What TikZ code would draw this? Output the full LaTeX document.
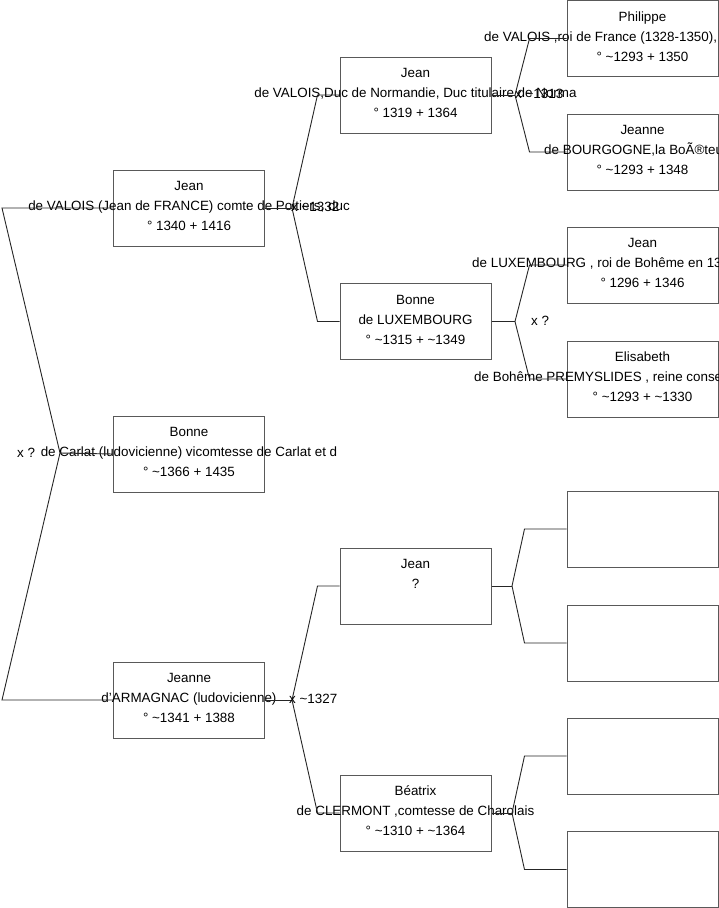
\documentclass[tikz,border=0pt]{standalone}
\usepackage{fontspec}
\setmainfont{Liberation Sans}
\newcommand\tld{\textasciitilde}
\newcommand\pfont{\fontsize{13.4}{15}\selectfont}
\tikzset{
  pbox/.style={draw=black!65, line width=1pt, minimum width=151pt, minimum height=76pt, inner sep=0pt},
  ptext/.style={font=\pfont, inner sep=0pt, anchor=base},
  ptextw/.style={font=\pfont, inner sep=0pt, anchor=base west},
  link/.style={draw=black!85, line width=0.9pt},
  lbl/.style={font=\pfont, inner sep=0pt, anchor=base west},
}
% name, xcenter, ytop, line1, line2, line3
\newcommand\pers[6]{%
  \node[pbox] (#1) at (#2,#3+38) {};
  \node[ptext] (#1-a) at (#2,#3+20.5) {#4};
  \node[ptext] (#1-b) at (#2,#3+40.5) {#5};
  \node[ptext] (#1-c) at (#2,#3+60.5) {#6};
}
% name, xcenter, ytop, line1, xstart of line2, line2, line3
\newcommand\persw[7]{%
  \node[pbox] (#1) at (#2,#3+38) {};
  \node[ptext] (#1-a) at (#2,#3+20.5) {#4};
  \node[ptextw] (#1-b) at (#5,#3+40.5) {#6};
  \node[ptext] (#1-c) at (#2,#3+60.5) {#7};
}
\newcommand\emptybox[3]{%
  \node[pbox] (#1) at (#2,#3+38) {};
}
\begin{document}
\begin{tikzpicture}[x=1pt,y=-1pt]
\clip (0,0) rectangle (719,908);
\fill[white] (0,0) rectangle (719,908);

% column 1
\pers{a1}{189}{170}{Jean}{de VALOIS (Jean de FRANCE) comte de Poitiers, duc}{° 1340 + 1416}
\pers{a2}{189}{416}{Bonne}{de Carlat (ludovicienne) vicomtesse de Carlat et d}{° \tld1366 + 1435}
\pers{a3}{189}{662}{Jeanne}{d'ARMAGNAC (ludovicienne)}{° \tld1341 + 1388}

% column 2
\pers{b1}{415.5}{57}{Jean}{de VALOIS,Duc de Normandie, Duc titulaire de Norma}{° 1319 + 1364}
\pers{b2}{415.5}{283.5}{Bonne}{de LUXEMBOURG}{° \tld1315 + \tld1349}
\pers{b3}{415.5}{548}{Jean}{?}{}
\pers{b4}{415.5}{775}{Béatrix}{de CLERMONT ,comtesse de Charolais}{° \tld1310 + \tld1364}

% column 3
\persw{c1}{642.5}{0.5}{Philippe}{484}{de VALOIS ,roi de France (1328-1350),}{° \tld1293 + 1350}
\persw{c2}{642.5}{114}{Jeanne}{544}{de BOURGOGNE,la BoÃ®teu}{° \tld1293 + 1348}
\persw{c3}{642.5}{227}{Jean}{472}{de LUXEMBOURG , roi de Bohême en 13}{° 1296 + 1346}
\persw{c4}{642.5}{341}{Elisabeth}{474}{de Bohême PREMYSLIDES , reine conse}{° \tld1293 + \tld1330}
\emptybox{c5}{642.5}{491}
\emptybox{c6}{642.5}{605}
\emptybox{c7}{642.5}{718}
\emptybox{c8}{642.5}{831.5}

% fork 0 (left)
\coordinate (t0) at (2,208);
\coordinate (v0) at (60,453);
\coordinate (u0) at (2,700);
\draw[link] (a1.west) -- (t0) -- (v0) -- (u0) -- (a3.west);
\draw[link] (v0) -- (a2.west);
\node[lbl] (l0) at (17,457.5) {x ?};

% fork 1
\coordinate (v1) at (292,208);
\draw[link] (a1.east) -- (v1);
\draw[link] (v1) -- ([xshift=-22pt]b1.west) -- (b1.west);
\draw[link] (v1) -- ([xshift=-22pt]b2.west) -- (b2.west);
\node[lbl] (l1) at (291,211) {x \tld1332};

% fork 2
\coordinate (v2) at (515,95);
\draw[link] (b1.east) -- (v2);
\draw[link] (v2) -- ([xshift=-37pt]c1.west) -- (c1.west);
\draw[link] (v2) -- ([xshift=-37pt]c2.west) -- (c2.west);
\node[lbl] (l2) at (515,98) {x \tld1313};

% fork 3
\coordinate (v3) at (515,321.5);
\draw[link] (b2.east) -- (v3);
\draw[link] (v3) -- ([xshift=-37pt]c3.west) -- (c3.west);
\draw[link] (v3) -- ([xshift=-37pt]c4.west) -- (c4.west);
\node[lbl] (l3) at (531,325) {x ?};

% fork 4
\coordinate (v4) at (292,700);
\draw[link] (a3.east) -- (v4);
\draw[link] (v4) -- ([xshift=-22pt]b3.west) -- (b3.west);
\draw[link] (v4) -- ([xshift=-22pt]b4.west) -- (b4.west);
\node[lbl] (l4) at (289,703) {x \tld1327};

% fork 5
\coordinate (v5) at (512,586);
\draw[link] (b3.east) -- (v5);
\draw[link] (v5) -- ([xshift=-42pt]c5.west) -- (c5.west);
\draw[link] (v5) -- ([xshift=-42pt]c6.west) -- (c6.west);

% fork 6
\coordinate (v6) at (512,813);
\draw[link] (b4.east) -- (v6);
\draw[link] (v6) -- ([xshift=-42pt]c7.west) -- (c7.west);
\draw[link] (v6) -- ([xshift=-42pt]c8.west) -- (c8.west);
\end{tikzpicture}
\end{document}
